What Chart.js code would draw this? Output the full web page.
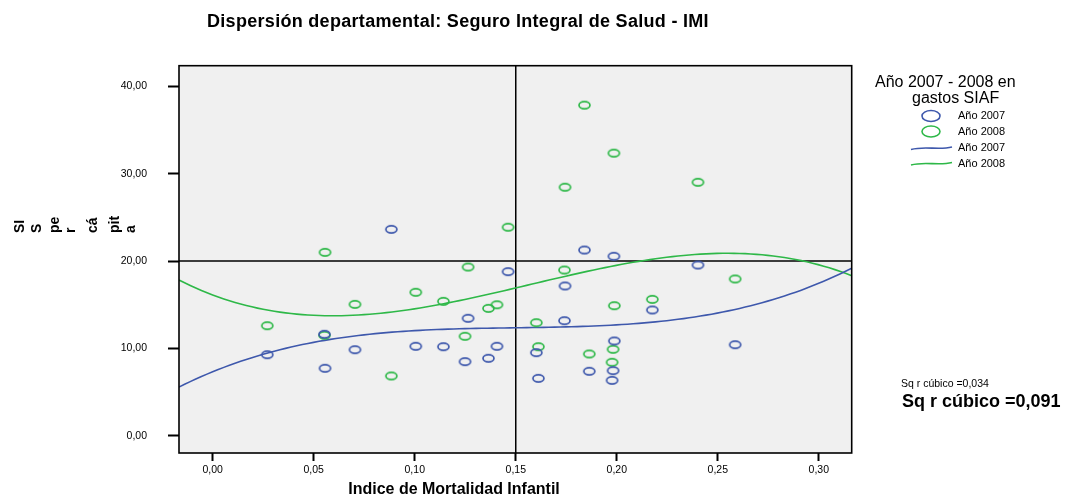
<!DOCTYPE html>
<html lang="es">
<head>
<meta charset="UTF-8">
<title>Dispersión departamental: Seguro Integral de Salud - IMI</title>
<script src="https://cdn.jsdelivr.net/npm/chart.js@4.4.1/dist/chart.umd.min.js"></script>
<style>
    body { margin: 0; background: #ffffff; }
    canvas { display: block; }
</style>
</head>
<body>
<canvas id="chart" width="1066" height="498"></canvas>
<script>
    // Indice de Mortalidad Infantil por departamento (eje X)
    const imi = [0.027, 0.0553, 0.0556, 0.0704, 0.0884, 0.1005, 0.1142, 0.1249, 0.1264, 0.1365,
                 0.1407, 0.1462, 0.1602, 0.1612, 0.1741, 0.1744, 0.1840, 0.1864, 0.1977, 0.1982,
                 0.1986, 0.1988, 0.2176, 0.2402, 0.2586];
    // SIS per cápita, año 2007
    const sis2007 = [9.28, 11.62, 7.72, 9.85, 23.64, 10.24, 10.19, 8.48, 13.45, 8.87,
                     10.24, 18.79, 9.51, 6.57, 13.17, 17.15, 21.27, 7.38, 6.34, 7.45,
                     20.55, 10.85, 14.40, 19.55, 10.42];
    // SIS per cápita, año 2008
    const sis2008 = [12.60, 11.50, 21.00, 15.05, 6.84, 16.43, 15.39, 11.39, 19.32, 14.59,
                     15.00, 23.88, 12.94, 10.19, 18.98, 28.46, 37.86, 9.36, 8.41, 9.90,
                     32.36, 14.89, 15.62, 29.03, 17.95];
    const seriesNames = ['Año 2007', 'Año 2008'];
    const r2Labels = ['Sq r cúbico =0,034', 'Sq r cúbico =0,091'];
    // lineas de referencia
    const refX = 0.15;
    const refY = 20;

    const BLUE = '#3E58AC';
    const GREEN = '#2EB848';
    const FONT = "'Liberation Sans', Arial, sans-serif";
    const X_MIN = -0.0167, X_MAX = 0.3163;
    const Y_MIN = -1.98, Y_MAX = 42.38;

    // ajuste cúbico por mínimos cuadrados
    function cubicFit(xs, ys) {
        const n = 4;
        const A = [], b = [];
        for (let i = 0; i < n; i++) {
            A.push(new Array(n).fill(0));
            b.push(0);
        }
        xs.forEach((x, k) => {
            for (let i = 0; i < n; i++) {
                b[i] += ys[k] * Math.pow(x, i);
                for (let j = 0; j < n; j++) A[i][j] += Math.pow(x, i + j);
            }
        });
        for (let c = 0; c < n; c++) {
            let p = c;
            for (let r = c + 1; r < n; r++) if (Math.abs(A[r][c]) > Math.abs(A[p][c])) p = r;
            [A[c], A[p]] = [A[p], A[c]];
            [b[c], b[p]] = [b[p], b[c]];
            for (let r = c + 1; r < n; r++) {
                const f = A[r][c] / A[c][c];
                for (let k = c; k < n; k++) A[r][k] -= f * A[c][k];
                b[r] -= f * b[c];
            }
        }
        const coef = new Array(n).fill(0);
        for (let r = n - 1; r >= 0; r--) {
            let s = b[r];
            for (let k = r + 1; k < n; k++) s -= A[r][k] * coef[k];
            coef[r] = s / A[r][r];
        }
        return coef;
    }

    function fitCurve(xs, ys) {
        const c = cubicFit(xs, ys);
        const out = [];
        const steps = 120;
        for (let i = 0; i <= steps; i++) {
            const x = X_MIN + (X_MAX - X_MIN) * i / steps;
            out.push({ x: x, y: c[0] + c[1] * x + c[2] * x * x + c[3] * x * x * x });
        }
        return out;
    }

    function ellipseSprite(color, rx, ry, lw) {
        const c = document.createElement('canvas');
        c.width = Math.ceil(2 * rx + lw + 2);
        c.height = Math.ceil(2 * ry + lw + 2);
        const g = c.getContext('2d');
        g.strokeStyle = color;
        g.lineWidth = lw;
        g.beginPath();
        g.ellipse(c.width / 2, c.height / 2, rx, ry, 0, 0, Math.PI * 2);
        g.stroke();
        return c;
    }

    const fmt = v => v.toFixed(2).replace('.', ',');

    const decorations = {
        id: 'decorations',
        beforeDraw(chart) {
            const { ctx, chartArea: a } = chart;
            ctx.save();
            ctx.fillStyle = '#ffffff';
            ctx.fillRect(0, 0, chart.width, chart.height);
            ctx.fillStyle = '#F0F0F0';
            ctx.fillRect(a.left, a.top, a.right - a.left, a.bottom - a.top);
            ctx.restore();
        },
        beforeDatasetsDraw(chart) {
            const { ctx, chartArea: a, scales } = chart;
            const px = scales.x.getPixelForValue(refX);
            const py = scales.y.getPixelForValue(refY);
            ctx.save();
            ctx.strokeStyle = '#000';
            ctx.lineWidth = 1.5;
            ctx.beginPath();
            ctx.moveTo(px, a.top);
            ctx.lineTo(px, a.bottom);
            ctx.moveTo(a.left, py);
            ctx.lineTo(a.right, py);
            ctx.stroke();
            ctx.restore();
        },
        afterDatasetsDraw(chart) {
            const { ctx, chartArea: a } = chart;
            ctx.save();
            ctx.strokeStyle = '#000';
            ctx.lineWidth = 1.6;
            ctx.strokeRect(a.left, a.top, a.right - a.left, a.bottom - a.top);
            ctx.restore();
        },
        afterDraw(chart) {
            const ctx = chart.ctx;
            ctx.save();
            ctx.fillStyle = '#000';

            // titulo
            ctx.font = 'bold 18px ' + FONT;
            ctx.letterSpacing = '0.3px';
            ctx.textAlign = 'left';
            ctx.textBaseline = 'alphabetic';
            ctx.fillText('Dispersión departamental: Seguro Integral de Salud - IMI', 207, 27);
            ctx.letterSpacing = '0px';

            // titulo eje Y, partido en columnas como en el original
            const yParts = ['SI', 'S', 'pe', 'r', 'cá', 'pit', 'a'];
            const yBase = [24, 41, 59, 75, 97, 119, 135];
            ctx.font = 'bold 14px ' + FONT;
            yParts.forEach((t, i) => {
                ctx.save();
                ctx.translate(yBase[i], 233);
                ctx.rotate(-Math.PI / 2);
                ctx.fillText(t, 0, 0);
                ctx.restore();
            });

            // titulo eje X
            ctx.font = 'bold 16px ' + FONT;
            ctx.textAlign = 'center';
            ctx.textBaseline = 'middle';
            ctx.fillText('Indice de Mortalidad Infantil', 454, 490);

            // leyenda
            ctx.textAlign = 'left';
            ctx.textBaseline = 'alphabetic';
            ctx.font = '16px ' + FONT;
            ctx.fillText('Año 2007 - 2008 en', 875, 87);
            ctx.fillText('gastos SIAF', 912, 103);

            const colors = [BLUE, GREEN];
            const rows = [116, 131.5, 148, 163.5];
            ctx.font = '11px ' + FONT;
            ctx.textBaseline = 'middle';
            rows.forEach((y, i) => {
                const col = colors[i % 2];
                ctx.strokeStyle = col;
                ctx.lineWidth = 1.6;
                ctx.beginPath();
                if (i < 2) {
                    ctx.ellipse(931, y, 9, 5.5, 0, 0, Math.PI * 2);
                } else {
                    ctx.moveTo(911, y + 1.5);
                    ctx.bezierCurveTo(925, y - 2.5, 938, y + 2.5, 952, y - 1);
                }
                ctx.stroke();
                ctx.fillText(seriesNames[i % 2], 958, y);
            });

            // R cuadrado
            ctx.font = '10.5px ' + FONT;
            ctx.fillText(r2Labels[0], 901, 384);
            ctx.font = 'bold 18px ' + FONT;
            ctx.fillText(r2Labels[1], 902, 402);
            ctx.restore();
        }
    };

    const pts2007 = imi.map((x, i) => ({ x: x, y: sis2007[i] }));
    const pts2008 = imi.map((x, i) => ({ x: x, y: sis2008[i] }));

    new Chart(document.getElementById('chart'), {
        type: 'scatter',
        data: {
            datasets: [
                {
                    label: seriesNames[0],
                    data: pts2007,
                    pointStyle: ellipseSprite(BLUE, 5.5, 3.6, 1.7),
                    pointRadius: 6,
                    borderColor: BLUE,
                    backgroundColor: BLUE
                },
                {
                    label: seriesNames[1],
                    data: pts2008,
                    pointStyle: ellipseSprite(GREEN, 5.5, 3.6, 1.7),
                    pointRadius: 6,
                    borderColor: GREEN,
                    backgroundColor: GREEN
                },
                {
                    type: 'line',
                    label: seriesNames[0] + ' ajuste',
                    data: fitCurve(imi, sis2007),
                    borderColor: BLUE,
                    borderWidth: 1.6,
                    pointRadius: 0,
                    fill: false,
                    tension: 0
                },
                {
                    type: 'line',
                    label: seriesNames[1] + ' ajuste',
                    data: fitCurve(imi, sis2008),
                    borderColor: GREEN,
                    borderWidth: 1.6,
                    pointRadius: 0,
                    fill: false,
                    tension: 0
                }
            ]
        },
        options: {
            responsive: false,
            animation: false,
            devicePixelRatio: 1,
            layout: { padding: { top: 65.7, right: 1066 - 851.7, left: 0, bottom: 0 } },
            plugins: {
                legend: { display: false },
                title: { display: false },
                tooltip: { enabled: false }
            },
            scales: {
                x: {
                    type: 'linear',
                    min: X_MIN,
                    max: X_MAX,
                    border: { display: false },
                    grid: { drawOnChartArea: false, drawTicks: true, tickLength: 8, tickColor: '#000', tickWidth: 2 },
                    ticks: {
                        stepSize: 0.05,
                        includeBounds: false,
                        padding: 3,
                        color: '#000',
                        maxRotation: 0,
                        autoSkip: false,
                        font: { family: FONT, size: 10.5 },
                        callback: v => fmt(v)
                    },
                    afterFit: s => { s.height = 45; }
                },
                y: {
                    type: 'linear',
                    min: Y_MIN,
                    max: Y_MAX,
                    border: { display: false },
                    grid: { drawOnChartArea: false, drawTicks: true, tickLength: 11, tickColor: '#000', tickWidth: 2 },
                    ticks: {
                        stepSize: 10,
                        includeBounds: false,
                        padding: 21,
                        color: '#000',
                        font: { family: FONT, size: 10.5 },
                        callback: v => fmt(v)
                    },
                    afterFit: s => { s.width = 179; }
                }
            }
        },
        plugins: [decorations]
    });
</script>
</body>
</html>
